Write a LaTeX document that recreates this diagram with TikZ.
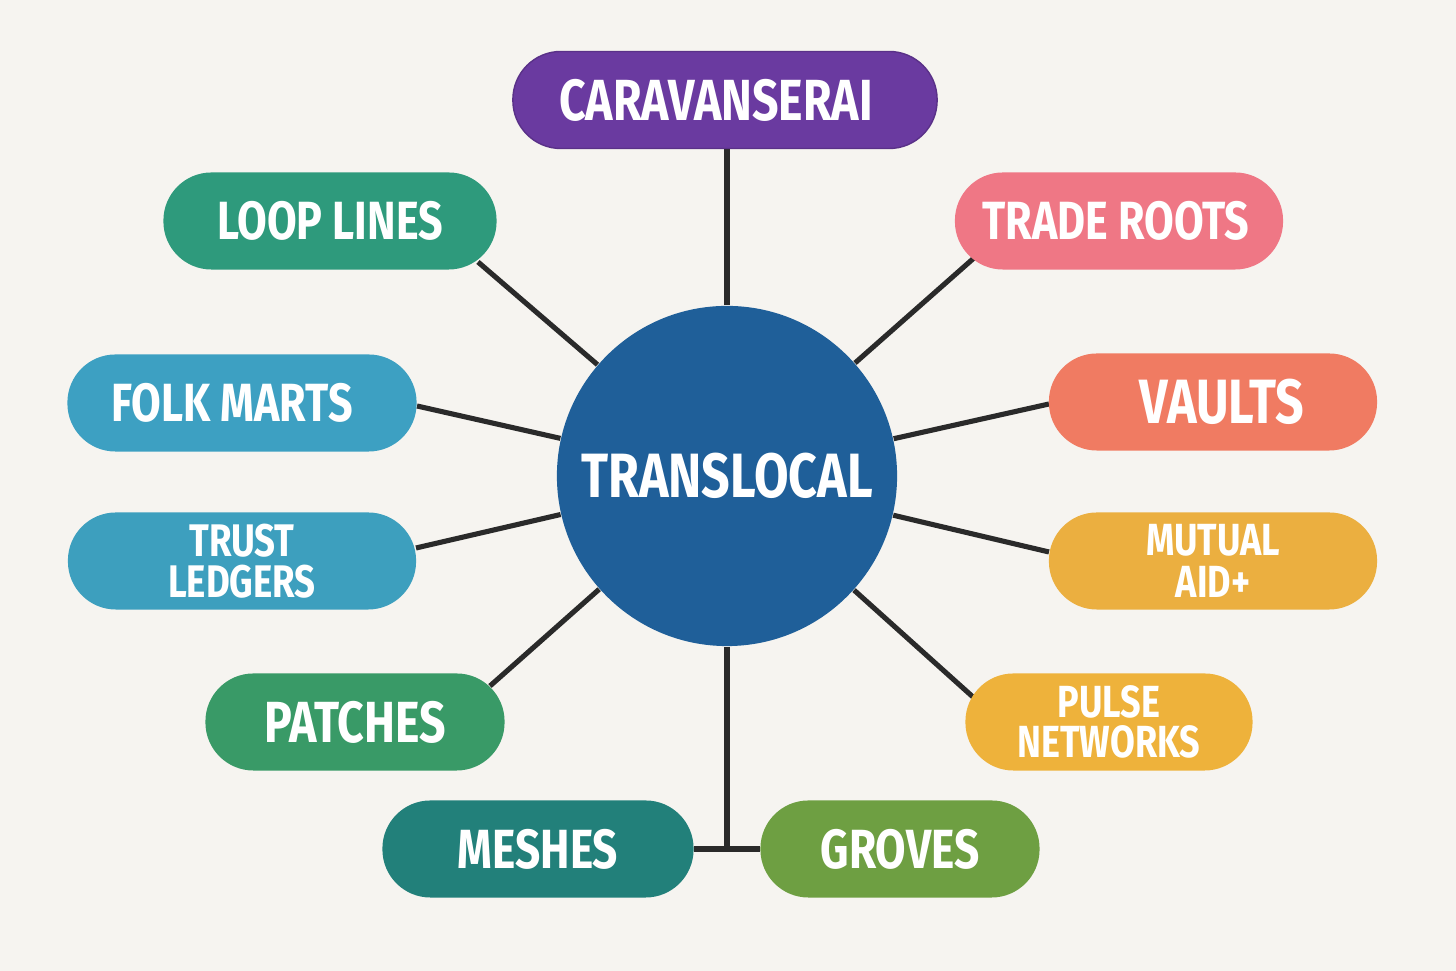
\documentclass[tikz,border=0pt]{standalone}
\usepackage{fontspec}
\newfontfamily\hand{Fira Sans}[FakeStretch=0.8]
\usetikzlibrary{calc,backgrounds}
\definecolor{bgc}{HTML}{F6F4F0}
\definecolor{linec}{HTML}{2A2A2A}
\definecolor{hubc}{HTML}{1F5F99}
\definecolor{purp}{HTML}{6A3AA0}
\definecolor{loopc}{HTML}{2E9A7C}
\definecolor{tradec}{HTML}{EF7785}
\definecolor{folkc}{HTML}{3DA0C2}
\definecolor{trustc}{HTML}{3D9FBE}
\definecolor{vaultc}{HTML}{F07B62}
\definecolor{mutualc}{HTML}{EBAF40}
\definecolor{patchc}{HTML}{399A67}
\definecolor{pulsec}{HTML}{EEB23B}
\definecolor{meshc}{HTML}{22807A}
\definecolor{grovec}{HTML}{6E9F42}
\tikzset{
  pill/.style={rounded corners=0.48cm, minimum height=0.97cm, inner sep=0pt,
    text=white, align=center},
  conn/.style={draw=linec, line width=1.45pt},
}
\newcommand{\fs}[2]{\hand\bfseries\fontsize{#1}{#2}\selectfont}
\begin{document}
\begin{tikzpicture}[x=0.01cm,y=-0.01cm]
\useasboundingbox (0,0) rectangle (1456,971);
% hub
\node[circle, fill=hubc, minimum size=3.4cm, inner sep=0pt, text=white,
  font=\fs{17.8}{20}] (hub) at (727,476) {TRANSLOCAL};
% pills
\node[pill, fill=purp, draw=purp!85!black, minimum width=4.24cm, font=\fs{16.5}{18}] (cara) at (725,100) {\hspace*{-0.18cm}CARAVANSERAI};
\node[pill, fill=loopc, minimum width=3.33cm, font=\fs{15.3}{17}] (loop) at (330,221) {LOOP LINES};
\node[pill, fill=tradec, minimum width=3.28cm, font=\fs{15.3}{17}] (trade) at (1119,221) {\hspace*{-0.06cm}TRADE ROOTS};
\node[pill, fill=folkc, minimum width=3.49cm, font=\fs{15.3}{17}] (folk) at (242,403) {\hspace*{-0.2cm}FOLK MARTS};
\node[pill, fill=vaultc, minimum width=3.28cm, font=\fs{17.8}{20}] (vaults) at (1213,402) {\hspace*{0.18cm}VAULTS};
\node[pill, fill=trustc, minimum width=3.48cm, font=\fs{13}{11.8}] (trust) at (242,561) {TRUST\\LEDGERS};
\node[pill, fill=mutualc, minimum width=3.28cm, font=\fs{12.8}{11.8}] (mutual) at (1213,561) {MUTUAL\\AID+};
\node[pill, fill=patchc, minimum width=2.99cm, font=\fs{16.5}{18}] (patches) at (355,722) {PATCHES};
\node[pill, fill=pulsec, minimum width=2.87cm, font=\fs{12.8}{11.5}] (pulse) at (1109,722) {PULSE\\NETWORKS};
\node[pill, fill=meshc, minimum width=3.11cm, font=\fs{15.7}{17}] (meshes) at (538,849) {MESHES};
\node[pill, fill=grovec, minimum width=2.79cm, font=\fs{15.7}{17}] (groves) at (900,849) {GROVES};
\coordinate (junc) at (727,849);
\begin{pgfonlayer}{background}
\fill[bgc] (0,0) rectangle (1456,971);
\draw[conn] (hub) -- (hub |- cara);
\draw[conn] (hub) -- ($(loop)+(148,41)$);
\draw[conn] (hub) -- ($(trade)+(-145,37)$);
\draw[conn] (hub) -- ($(folk)+(175,3)$);
\draw[conn] (hub) -- ($(vaults)+(-164,2)$);
\draw[conn] (hub) -- ($(trust)+(174,-13)$);
\draw[conn] (hub) -- ($(mutual)+(-164,-9)$);
\draw[conn] (hub) -- ($(patches)+(135,-36)$);
\draw[conn] (hub) -- ($(pulse)+(-136,-25)$);
\draw[conn] (hub) -- (junc);
\draw[conn] (meshes.east) -- (groves.west);
\end{pgfonlayer}
\end{tikzpicture}
\end{document}
